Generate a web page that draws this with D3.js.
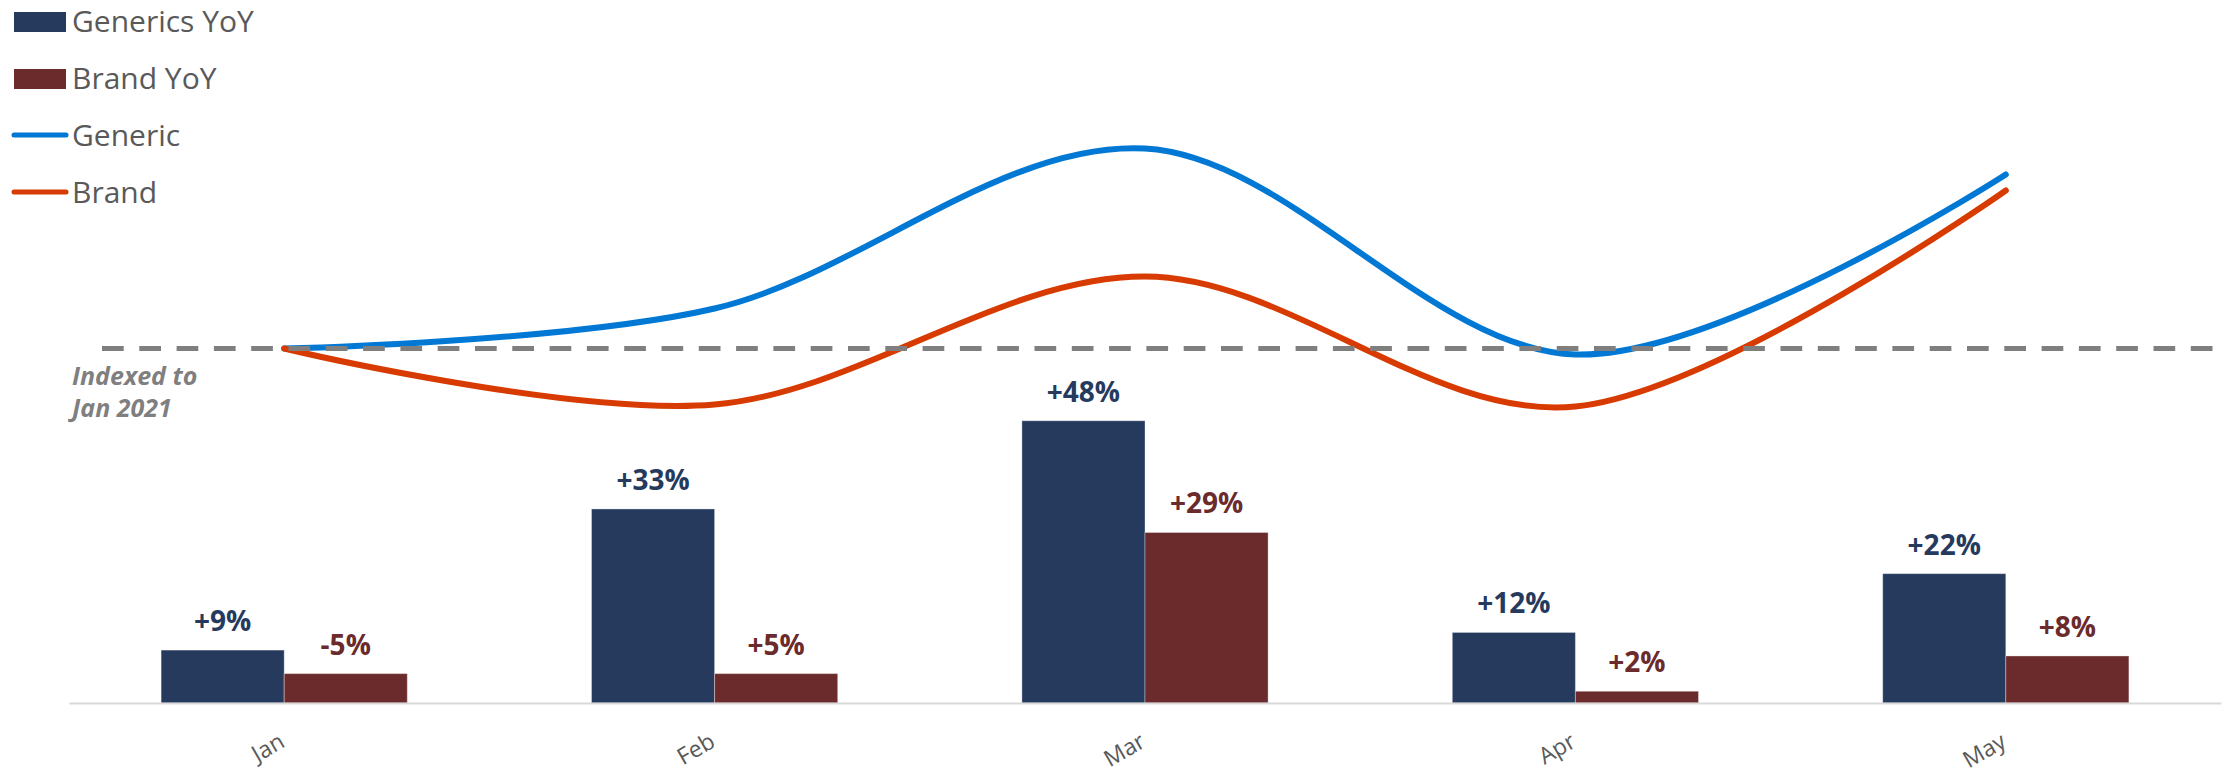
<!DOCTYPE html>
<html>
<head>
<meta charset="utf-8">
<script src="https://cdn.jsdelivr.net/npm/d3@7"></script>
<style>
  html, body { margin: 0; padding: 0; background: #ffffff; }
  svg { display: block; font-family: "Open Sans", "Noto Sans", sans-serif; }
</style>
</head>
<body>
<svg id="chart" width="2226" height="776"></svg>
<script>
// Months on the category axis
const months = ["Jan", "Feb", "Mar", "Apr", "May"];

// Year-over-year growth (%) shown as bars
const genericsYoY = [9, 33, 48, 12, 22];
const brandYoY = [-5, 5, 29, 2, 8];

// Volume index (Jan 2021 = 100) shown as smoothed lines
const genericIndex = [100, 102.0, 110.0, 99.7, 108.7];
const brandIndex = [100, 97.2, 103.6, 97.1, 107.9];

// Legend entries
const legendItems = [
  { label: "Generics YoY", type: "bar", color: "#263a5e" },
  { label: "Brand YoY", type: "bar", color: "#6b2a2b" },
  { label: "Generic", type: "line", color: "#0078d4" },
  { label: "Brand", type: "line", color: "#d83b01" }
];

const barSeries = [
  { key: "Generics YoY", values: genericsYoY, fill: "#263a5e", text: "#263a5e" },
  { key: "Brand YoY", values: brandYoY, fill: "#6b2a2b", text: "#6b2a2b" }
];
const lineSeries = [
  { key: "Generic", values: genericIndex, color: "#0078d4" },
  { key: "Brand", values: brandIndex, color: "#d83b01" }
];

const svg = d3.select("#chart");
svg.append("rect").attr("width", 2226).attr("height", 776).attr("fill", "#ffffff");

// Scales
const x0 = d3.scaleBand().domain(months).range([69, 2221])
  .paddingInner(0.428).paddingOuter(0.214);
const x1 = d3.scaleBand().domain(barSeries.map(s => s.key)).range([0, x0.bandwidth()]);
const yBar = d3.scaleLinear().domain([0, 50]).range([703, 409]);
const yIdx = d3.scaleLinear().domain([90, 112]).range([548.5, 108.5]);

// Bars (height shows the size of the change) with their value labels
const barG = svg.append("g");
barSeries.forEach(s => {
  barG.selectAll(null).data(months).enter().append("rect")
    .attr("x", (m) => x0(m) + x1(s.key))
    .attr("y", (m, i) => yBar(Math.abs(s.values[i])))
    .attr("width", x1.bandwidth())
    .attr("height", (m, i) => yBar(0) - yBar(Math.abs(s.values[i])))
    .attr("fill", s.fill)
    .attr("stroke", "#ffffff")
    .attr("stroke-opacity", 0.35)
    .attr("stroke-width", 1);

  barG.selectAll(null).data(months).enter().append("text")
    .attr("x", (m) => x0(m) + x1(s.key) + x1.bandwidth() / 2)
    .attr("y", (m, i) => yBar(Math.abs(s.values[i])) - 19)
    .attr("text-anchor", "middle")
    .attr("font-size", 28)
    .attr("font-weight", 700)
    .attr("fill", s.text)
    .text((m, i) => (s.values[i] > 0 ? "+" : "") + s.values[i] + "%");
});

// Category axis
const xAxis = d3.axisBottom(x0).tickSize(0).tickPadding(0);
const axisG = svg.append("g").attr("transform", "translate(0,703)").call(xAxis);
axisG.select(".domain").attr("stroke", "#d9d9d9").attr("stroke-width", 2);
axisG.selectAll(".tick text")
  .attr("font-size", 23)
  .attr("fill", "#595959")
  .attr("font-family", "'Open Sans', 'Noto Sans', sans-serif")
  .attr("text-anchor", "end")
  .attr("dy", 0)
  .attr("y", 0)
  .attr("transform", "translate(2,43) rotate(-30)");

// Smoothed index lines
const cx = (m) => x0(m) + x0.bandwidth() / 2;
const line = d3.line()
  .x((d, i) => cx(months[i]))
  .y(d => yIdx(d))
  .curve(d3.curveCardinal.tension(0));

lineSeries.forEach(s => {
  svg.append("path")
    .datum(s.values)
    .attr("d", line)
    .attr("fill", "none")
    .attr("stroke", s.color)
    .attr("stroke-width", 6)
    .attr("stroke-linecap", "round")
    .attr("stroke-linejoin", "round");
});

// Reference level at index 100
svg.append("line")
  .attr("x1", 102).attr("x2", 2214)
  .attr("y1", yIdx(100)).attr("y2", yIdx(100))
  .attr("stroke", "#7f7f7f")
  .attr("stroke-width", 5)
  .attr("stroke-dasharray", "21.7 15.6");

const note = svg.append("text")
  .attr("font-size", 25)
  .attr("font-weight", 700)
  .attr("font-style", "italic")
  .attr("fill", "#7f7f7f");
note.append("tspan").attr("x", 72).attr("y", 385).text("Indexed to");
note.append("tspan").attr("x", 72).attr("y", 417).text("Jan 2021");

// Legend
const legend = svg.append("g");
legendItems.forEach((d, i) => {
  const base = 32 + i * 57;
  const g = legend.append("g");
  if (d.type === "bar") {
    g.append("rect").attr("x", 14).attr("y", base - 20).attr("width", 52).attr("height", 20)
      .attr("fill", d.color);
  } else {
    g.append("line").attr("x1", 14).attr("x2", 66)
      .attr("y1", base - 11).attr("y2", base - 11)
      .attr("stroke", d.color).attr("stroke-width", 5).attr("stroke-linecap", "round");
  }
  g.append("text").attr("x", 72).attr("y", base)
    .attr("font-size", 30).attr("fill", "#595959").text(d.label);
});
</script>
</body>
</html>
